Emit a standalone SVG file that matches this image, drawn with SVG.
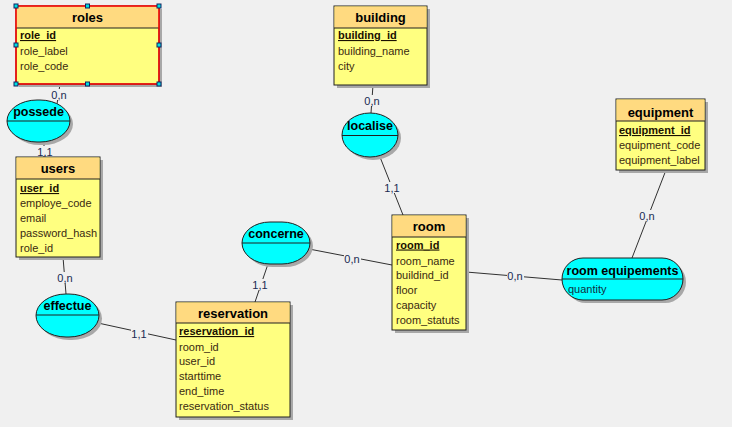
<svg xmlns="http://www.w3.org/2000/svg" width="732" height="427" viewBox="0 0 732 427">
<style>
.bg{fill:#f0f0f0}
.shadow{fill:#a8a8a8}
.body{fill:#ffff80;stroke:#202020;stroke-width:1}
.head{fill:#ffda80}
.sep{stroke:#202020;stroke-width:1}
.assoc{fill:#00ffff;stroke:#202020;stroke-width:1}
.title{font-family:"Liberation Sans",Arial,sans-serif;font-size:13px;font-weight:bold;fill:#000;text-anchor:middle}
.atitle{font-family:"Liberation Sans",Arial,sans-serif;font-size:12.5px;font-weight:bold;fill:#000;text-anchor:middle}
.f{font-family:"Liberation Sans",Arial,sans-serif;font-size:11px;fill:#3a2a10}
.pk{font-family:"Liberation Sans",Arial,sans-serif;font-size:11px;font-weight:bold;fill:#1a1000;text-decoration:underline}
.conn line{stroke:#303030;stroke-width:1}
.lb{fill:#f0f0f0}
.lbl{font-family:"Liberation Sans",Arial,sans-serif;font-size:11px;fill:#1a2a50;text-anchor:middle}
.h{fill:#00e0e0;stroke:#102060;stroke-width:1}
</style>
<rect class="bg" x="0" y="0" width="732" height="427"/>

<g id="connectors" class="conn">
  <line x1="60" y1="84" x2="57" y2="104"/>
  <line x1="44" y1="142" x2="44" y2="157"/>
  <line x1="63" y1="257" x2="66" y2="294"/>
  <line x1="98" y1="323" x2="176" y2="340"/>
  <line x1="268" y1="264" x2="255" y2="302"/>
  <line x1="309" y1="249" x2="392" y2="265"/>
  <line x1="373" y1="85" x2="371" y2="113"/>
  <line x1="380" y1="157" x2="403" y2="215"/>
  <line x1="466" y1="272" x2="562" y2="280"/>
  <line x1="666" y1="170" x2="632" y2="258"/>
  <rect class="lb" x="51" y="89" width="17" height="11"/>
  <rect class="lb" x="37" y="146" width="17" height="10"/>
  <rect class="lb" x="57" y="272" width="17" height="11"/>
  <rect class="lb" x="131" y="328" width="17" height="11"/>
  <rect class="lb" x="252" y="279" width="17" height="11"/>
  <rect class="lb" x="344" y="253" width="17" height="11"/>
  <rect class="lb" x="364" y="95" width="17" height="11"/>
  <rect class="lb" x="384" y="182" width="17" height="11"/>
  <rect class="lb" x="507" y="270" width="17" height="11"/>
  <rect class="lb" x="639" y="210" width="17" height="11"/>
  <text class="lbl" x="59" y="99">0,n</text>
  <text class="lbl" x="45" y="156">1,1</text>
  <text class="lbl" x="65" y="282">0,n</text>
  <text class="lbl" x="139" y="338">1,1</text>
  <text class="lbl" x="260" y="289">1,1</text>
  <text class="lbl" x="352" y="263">0,n</text>
  <text class="lbl" x="372" y="105">0,n</text>
  <text class="lbl" x="392" y="192">1,1</text>
  <text class="lbl" x="515" y="280">0,n</text>
  <text class="lbl" x="647" y="220">0,n</text>
</g>

<g id="roles">
  <rect class="shadow" x="19" y="9" width="143" height="78"/>
  <rect class="body" x="16" y="6" width="143" height="78"/>
  <rect class="head" x="16.5" y="6.5" width="142" height="21.5"/>
  <line class="sep" x1="16" y1="28" x2="159" y2="28"/>
  <rect x="16" y="6" width="143" height="78" fill="none" stroke="#ff0000" stroke-width="1.5"/>
  <text class="title" x="87.5" y="21.5">roles</text>
  <text class="pk" x="20" y="39">role_id</text>
  <text class="f" x="20" y="55">role_label</text>
  <text class="f" x="20" y="70">role_code</text>
  <rect class="h" x="14" y="4" width="4" height="4"/>
  <rect class="h" x="85.5" y="4" width="4" height="4"/>
  <rect class="h" x="157" y="4" width="4" height="4"/>
  <rect class="h" x="14" y="43" width="4" height="4"/>
  <rect class="h" x="157" y="43" width="4" height="4"/>
  <rect class="h" x="14" y="82" width="4" height="4"/>
  <rect class="h" x="85.5" y="82" width="4" height="4"/>
  <rect class="h" x="157" y="82" width="4" height="4"/>
</g>

<g id="possede">
  <rect class="shadow" x="10" y="103" width="63" height="42" rx="30" ry="21"/>
  <rect class="assoc" x="7" y="100" width="63" height="42" rx="30" ry="21"/>
  <line class="sep" x1="7" y1="121" x2="70" y2="121"/>
  <text class="atitle" x="38.5" y="116">possede</text>
</g>

<g id="users">
  <rect class="shadow" x="19" y="160" width="84" height="100"/>
  <rect class="body" x="16" y="157" width="84" height="100"/>
  <rect class="head" x="16.5" y="157.5" width="83" height="21.5"/>
  <line class="sep" x1="16" y1="179" x2="100" y2="179"/>
  <text class="title" x="58" y="172.5">users</text>
  <text class="pk" x="20" y="192">user_id</text>
  <text class="f" x="20" y="207">employe_code</text>
  <text class="f" x="20" y="222">email</text>
  <text class="f" x="20" y="237">password_hash</text>
  <text class="f" x="20" y="252">role_id</text>
</g>

<g id="effectue">
  <rect class="shadow" x="39" y="297" width="63" height="43" rx="30" ry="21.5"/>
  <rect class="assoc" x="36" y="294" width="63" height="43" rx="30" ry="21.5"/>
  <line class="sep" x1="36" y1="315" x2="99" y2="315"/>
  <text class="atitle" x="67.5" y="309.5">effectue</text>
</g>

<g id="reservation">
  <rect class="shadow" x="179" y="305" width="114" height="115"/>
  <rect class="body" x="176" y="302" width="114" height="115"/>
  <rect class="head" x="176.5" y="302.5" width="113" height="20.5"/>
  <line class="sep" x1="176" y1="323" x2="290" y2="323"/>
  <text class="title" x="233" y="317.5">reservation</text>
  <text class="pk" x="179" y="335">reservation_id</text>
  <text class="f" x="179" y="350.5">room_id</text>
  <text class="f" x="179" y="365">user_id</text>
  <text class="f" x="179" y="380">starttime</text>
  <text class="f" x="179" y="395">end_time</text>
  <text class="f" x="179" y="410">reservation_status</text>
</g>

<g id="concerne">
  <rect class="shadow" x="245" y="225" width="68" height="42" rx="28" ry="21"/>
  <rect class="assoc" x="242" y="222" width="68" height="42" rx="28" ry="21"/>
  <line class="sep" x1="242" y1="243" x2="310" y2="243"/>
  <text class="atitle" x="276" y="237.5">concerne</text>
</g>

<g id="building">
  <rect class="shadow" x="337" y="9" width="93" height="79"/>
  <rect class="body" x="334" y="6" width="93" height="79"/>
  <rect class="head" x="334.5" y="6.5" width="92" height="21.5"/>
  <line class="sep" x1="334" y1="28" x2="427" y2="28"/>
  <text class="title" x="380.5" y="21.5">building</text>
  <text class="pk" x="338" y="39">building_id</text>
  <text class="f" x="338" y="55">building_name</text>
  <text class="f" x="338" y="70">city</text>
</g>

<g id="localise">
  <rect class="shadow" x="345" y="116" width="56" height="44" rx="28" ry="22"/>
  <rect class="assoc" x="342" y="113" width="56" height="44" rx="28" ry="22"/>
  <line class="sep" x1="342" y1="135.5" x2="398" y2="135.5"/>
  <text class="atitle" x="370" y="129.5">localise</text>
</g>

<g id="room">
  <rect class="shadow" x="395" y="218" width="74" height="115"/>
  <rect class="body" x="392" y="215" width="74" height="115"/>
  <rect class="head" x="392.5" y="215.5" width="73" height="21.5"/>
  <line class="sep" x1="392" y1="237" x2="466" y2="237"/>
  <text class="title" x="429" y="230.5">room</text>
  <text class="pk" x="396" y="248.5">room_id</text>
  <text class="f" x="396" y="265">room_name</text>
  <text class="f" x="396" y="279">buildind_id</text>
  <text class="f" x="396" y="294">floor</text>
  <text class="f" x="396" y="309">capacity</text>
  <text class="f" x="396" y="324">room_statuts</text>
</g>

<g id="equipment">
  <rect class="shadow" x="619" y="102" width="89" height="71"/>
  <rect class="body" x="616" y="99" width="89" height="71"/>
  <rect class="head" x="616.5" y="99.5" width="88" height="21.5"/>
  <line class="sep" x1="616" y1="121" x2="705" y2="121"/>
  <text class="title" x="660.5" y="116.5">equipment</text>
  <text class="pk" x="619" y="134">equipment_id</text>
  <text class="f" x="619" y="149">equipment_code</text>
  <text class="f" x="619" y="164">equipment_label</text>
</g>

<g id="room-equipements">
  <rect class="shadow" x="565" y="261" width="121" height="42" rx="21" ry="21"/>
  <rect class="assoc" x="562" y="258" width="121" height="42" rx="21" ry="21"/>
  <line class="sep" x1="562" y1="279" x2="683" y2="279"/>
  <text class="atitle" x="622.5" y="274.5">room equipements</text>
  <text class="f" x="568" y="293" style="fill:#103040">quantity</text>
</g>
</svg>
